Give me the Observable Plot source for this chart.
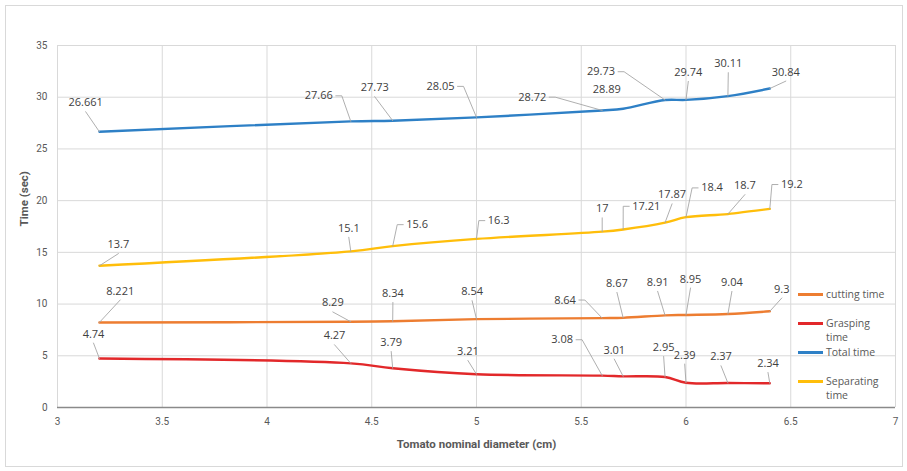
<!DOCTYPE html>
<html>
<head>
<meta charset="utf-8">
<script src="https://cdn.jsdelivr.net/npm/d3@7"></script>
<script src="https://cdn.jsdelivr.net/npm/@observablehq/plot@0.6"></script>
<style>
  body { margin: 0; background: #fff; }
  #wrap { position: relative; width: 907px; height: 471px; overflow: hidden; background: #fff; }
  #border { position: absolute; left: 5px; top: 5px; width: 896px; height: 460px; border: 1px solid #d9d9d9; pointer-events: none; }
  .lg { position: absolute; left: 798px; font: 10.5px "Open Sans", sans-serif; color: #595959; line-height: 14px; }
  .lg .sw { position: absolute; left: 0; top: 6px; width: 25px; height: 2.5px; }
  .lg .tx { position: absolute; left: 28px; top: 0; white-space: nowrap; }
</style>
</head>
<body>
<div id="wrap"><div id="border"></div></div>
<script>
// ---- data ----
const diameters = [3.2, 4.4, 4.6, 5.0, 5.6, 5.7, 5.9, 6.0, 6.2, 6.4];
const seriesNames = ["cutting time", "Grasping time", "Total time", "Separating time"];
const cuttingTime = [8.221, 8.29, 8.34, 8.54, 8.64, 8.67, 8.91, 8.95, 9.04, 9.3];
const graspingTime = [4.74, 4.27, 3.79, 3.21, 3.08, 3.01, 2.95, 2.39, 2.37, 2.34];
const totalTime = [26.661, 27.66, 27.73, 28.05, 28.72, 28.89, 29.73, 29.74, 30.11, 30.84];
const separatingTime = [13.7, 15.1, 15.6, 16.3, 17, 17.21, 17.87, 18.4, 18.7, 19.2];
const xTicks = [3, 3.5, 4, 4.5, 5, 5.5, 6, 6.5, 7];
const yTicks = [0, 5, 10, 15, 20, 25, 30, 35];

// ---- styling / label placement (pixel offsets from the point) ----
const cuttingLabelOffsets = [[20.8,-31.5],[-18,-18.8],[0.2,-27.8],[-4.4,-27.5],[-37.2,-18.1],[-6.2,-34.4],[-7.4,-33],[4.5,-35.9],[4,-31.6],[12,-22.3]];
const graspingLabelOffsets = [[-5.9,-24.4],[-16.3,-27.6],[-1.5,-25.8],[-8.6,-22.8],[-40,-35.9],[-8.9,-26.3],[-1.4,-29.5],[-1.3,-27.7],[-6.9,-26.2],[-1.8,-19.8]];
const totalLabelOffsets = [[-13.7,-29],[-32,-25.6],[-18,-33],[-36,-31],[-70,-13.3],[-16.4,-19,0],[-64,-28.3],[2.3,-27.5],[0.4,-32.4],[16,-16.4]];
const separatingLabelOffsets = [[19,-21.2],[-2,-23],[24.4,-21.5],[22.2,-18.3],[0,-22.8],[23.1,-23.2],[7,-27.8],[26,-29.3],[17,-28.5],[22,-24.4]];
const seriesColors = ["#ED7D31", "#E2282A", "#2E80C6", "#FFBE0A"];

const W = 907, H = 471, ML = 57, MR = 12, MT = 45, MB = 64;
const innerW = W - ML - MR, innerH = H - MT - MB;
const kx = (7 - 3) / innerW, ky = 35 / innerH;

const seriesDefs = [
  {name: seriesNames[0], values: cuttingTime, offsets: cuttingLabelOffsets, color: seriesColors[0]},
  {name: seriesNames[1], values: graspingTime, offsets: graspingLabelOffsets, color: seriesColors[1]},
  {name: seriesNames[2], values: totalTime, offsets: totalLabelOffsets, color: seriesColors[2]},
  {name: seriesNames[3], values: separatingTime, offsets: separatingLabelOffsets, color: seriesColors[3]}
];

const labelFont = "11px 'Open Sans'";
const ctx = document.createElement("canvas").getContext("2d");
ctx.font = labelFont;
function textWidth(s) {
  const w = ctx.measureText(s).width;
  return w > 0 ? w : s.length * 6.2;
}

const rows = [], labels = [], leaders = [];
seriesDefs.forEach((s, si) => {
  s.values.forEach((v, i) => {
    const x = diameters[i];
    rows.push({series: s.name, x, y: v});
    const [dx, dy, lead] = s.offsets[i];
    const txt = String(v);
    labels.push({x: x + dx * kx, y: v - dy * ky, text: txt});
    if (lead === 0) return;
    const hw = textWidth(txt) / 2;
    let pts;
    if (Math.abs(dx) - hw > 8.5) {
      const side = dx < 0 ? 1 : -1;
      pts = [[dx + side * (hw + 3), dy], [dx + side * (hw + 9), dy], [0, 0]];
    } else {
      pts = [[dx, dy + 9], [0, 0]];
    }
    const id = si + "-" + i;
    pts.forEach(([px, py]) => leaders.push({id, x: x + px * kx, y: v - py * ky}));
  });
});

const chart = Plot.plot({
  width: W, height: H,
  marginLeft: ML, marginRight: MR, marginTop: MT, marginBottom: MB,
  style: {fontFamily: "Roboto, 'Open Sans', sans-serif", fontSize: "10px", color: "#595959", background: "transparent"},
  x: {domain: [3, 7]},
  y: {domain: [0, 35]},
  marks: [
    Plot.gridY(yTicks, {stroke: "#d9d9d9", strokeOpacity: 1}),
    Plot.gridX(xTicks, {stroke: "#d9d9d9", strokeOpacity: 1}),
    Plot.ruleY([0], {stroke: "#8a8a8a", strokeWidth: 1.5}),
    Plot.axisY(yTicks, {tickSize: 0, tickPadding: 10, fill: "#595959", label: null, tickFormat: d => String(d)}),
    Plot.axisX(xTicks, {tickSize: 0, tickPadding: 10, fill: "#595959", label: null, tickFormat: d => String(d)}),
    Plot.line(rows, {x: "x", y: "y", z: "series", stroke: "series", strokeWidth: 2.4, curve: "catmull-rom"}),
    Plot.line(leaders, {x: "x", y: "y", z: "id", stroke: "#a6a6a6", strokeWidth: 0.9, curve: "linear"}),
    Plot.text(labels, {x: "x", y: "y", text: "text", fontSize: 11, fontFamily: "'Open Sans', sans-serif", fill: "#404040"}),
    Plot.text(["Tomato nominal diameter (cm)"], {text: d => d, frameAnchor: "bottom", dy: 40, fontWeight: "bold", fontSize: 11.5, fill: "#595959"}),
    Plot.text(["Time (sec)"], {text: d => d, frameAnchor: "left", dx: -33, rotate: -90, fontWeight: "bold", fontSize: 11.5, fill: "#595959"})
  ],
  color: {domain: seriesNames, range: seriesColors}
});
const wrap = document.getElementById("wrap");
chart.style.position = "absolute";
chart.style.left = "0px";
chart.style.top = "0px";
wrap.appendChild(chart);

// legend (Excel-style, at right inside chart area)
const legendTops = [287, 316, 345, 374];
const legendText = ["cutting time", "Grasping<br>time", "Total time", "Separating<br>time"];
seriesNames.forEach((n, i) => {
  const d = document.createElement("div");
  d.className = "lg";
  d.style.top = legendTops[i] + "px";
  d.innerHTML = `<div class="sw" style="background:${seriesColors[i]}"></div><div class="tx">${legendText[i]}</div>`;
  wrap.appendChild(d);
});
</script>
</body>
</html>
